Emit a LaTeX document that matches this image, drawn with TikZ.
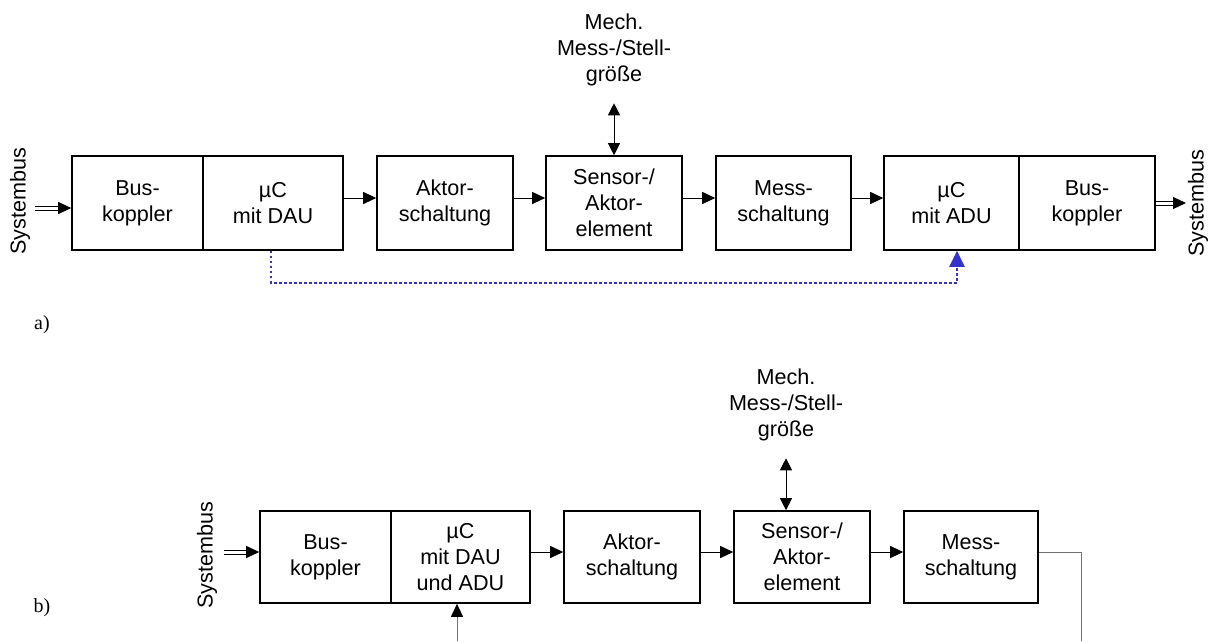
\documentclass[tikz,border=0pt]{standalone}
\usepackage{fontspec}
\setmainfont{Liberation Serif}
\newfontfamily\arial{Liberation Sans}
\usetikzlibrary{arrows.meta,calc}
\definecolor{dotblue}{HTML}{3333CC}
\definecolor{retgray}{HTML}{707070}
\begin{document}
\begin{tikzpicture}[x=1pt,y=-1pt,
  txt/.style={font=\arial\fontsize{21.6}{26}\selectfont},
  box/.style={txt,draw,line width=1.6pt,inner sep=0pt,minimum height=94pt,align=center},
  boxb/.style={box,minimum height=92pt},
  lbl/.style={txt,inner sep=0pt,align=center},
  sys/.style={txt,inner sep=0pt,rotate=90},
  arr/.style={line width=1pt,-{Triangle[length=13pt,width=12pt]}},
  darr/.style={line width=1pt,{Triangle[length=12pt,width=12pt]}-{Triangle[length=12pt,width=12pt]}},
  dbl/.style={line width=1pt},
  dotline/.style={dotblue,line width=2.3pt,dash pattern=on 2.5pt off 2.5pt,-{Triangle[length=16pt,width=15pt]}},
  retline/.style={retgray,line width=1pt},
  tag/.style={font=\fontsize{20}{24}\selectfont,inner sep=0pt}]
\useasboundingbox (0,0) rectangle (1217,641);

% ---------- a) ----------
\node[box,minimum width=131pt] (bus1) at (137.5,203) {Bus-\\koppler};
\node[box,minimum width=140pt] (dau) at (273,203) {µC\\mit DAU};
\node[box,minimum width=136pt] (akt) at (445,203) {Aktor-\\schaltung};
\node[box,minimum width=136pt] (sen) at (614,203) {Sensor-/\\Aktor-\\element};
\node[box,minimum width=135pt] (mess) at (783.5,203) {Mess-\\schaltung};
\node[box,minimum width=135pt] (adu) at (951.5,203) {µC\\mit ADU};
\node[box,minimum width=136pt] (bus2) at (1087,203) {Bus-\\koppler};

\node[sys] (sysL) at (20,201) {Systembus};
\node[sys] (sysR) at (1198,203) {Systembus};
\node[lbl] (mech) at (614,50) {Mech.\\Mess-/Stell-\\größe};
\node[tag] (ta) at (42,325) {a)};

\coordinate (s1) at (35,208);
\coordinate (t1) at ([xshift=-12pt,yshift=-5pt]bus1.west);
\draw[dbl] ([yshift=2pt]s1) -- ([yshift=2pt]t1);
\draw[dbl] ([yshift=-2pt]s1) -- ([yshift=-2pt]t1);
\draw[arr] ([xshift=-1pt]t1) -- ([yshift=-5pt]bus1.west);

\coordinate (s2) at ([xshift=19pt]bus2.east);
\coordinate (e2) at (1186,203);
\draw[dbl] ([yshift=2pt]bus2.east) -- ([yshift=2pt]s2);
\draw[dbl] ([yshift=-2pt]bus2.east) -- ([yshift=-2pt]s2);
\draw[arr] ([xshift=-1pt]s2) -- (e2);

\draw[arr] ([yshift=5pt]dau.east) -- ([yshift=5pt]akt.west);
\draw[arr] ([yshift=5pt]akt.east) -- ([yshift=5pt]sen.west);
\draw[arr] ([yshift=5pt]sen.east) -- ([yshift=5pt]mess.west);
\draw[arr] ([yshift=5pt]mess.east) -- ([yshift=5pt]adu.west);
\draw[darr] ([yshift=-17pt]mech.south) -- (sen.north);

\draw[dotline] ([xshift=-2pt]dau.south) -- ++(0,32) -| ([xshift=5.5pt]adu.south);

% ---------- b) ----------
\node[boxb,minimum width=131pt] (bus3) at (325.5,557) {Bus-\\koppler};
\node[boxb,minimum width=139pt] (dauadu) at (460.5,557) {µC\\mit DAU\\und ADU};
\node[boxb,minimum width=136pt] (akt2) at (632,557) {Aktor-\\schaltung};
\node[boxb,minimum width=136pt] (sen2) at (802,557) {Sensor-/\\Aktor-\\element};
\node[boxb,minimum width=134pt] (mess2) at (971,557) {Mess-\\schaltung};

\node[sys] (sysB) at (207,555) {Systembus};
\node[lbl] (mech2) at (786,405) {Mech.\\Mess-/Stell-\\größe};
\node[tag] (tb) at (42,608) {b)};

\coordinate (s3) at (224,552);
\coordinate (t3) at ([xshift=-12pt,yshift=5pt]bus3.west);
\draw[dbl] ([yshift=2pt]s3) -- ([yshift=2pt]t3);
\draw[dbl] ([yshift=-2pt]s3) -- ([yshift=-2pt]t3);
\draw[arr] ([xshift=-1pt]t3) -- ([yshift=5pt]bus3.west);

\draw[arr] ([yshift=5pt]dauadu.east) -- ([yshift=5pt]akt2.west);
\draw[arr] ([yshift=5pt]akt2.east) -- ([yshift=5pt]sen2.west);
\draw[arr] ([yshift=5pt]sen2.east) -- ([yshift=5pt]mess2.west);
\draw[darr] ([yshift=-17pt]mech2.south) -- (mech2.south |- sen2.north);

\coordinate (ret) at (1081,641);
\draw[retline] ([yshift=5pt]mess2.east) -| (ret);
\coordinate (up) at (457,641);
\draw[retline,-{Triangle[length=13pt,width=12pt,color=black]}] (up) -- (up |- dauadu.south);
\end{tikzpicture}
\end{document}
